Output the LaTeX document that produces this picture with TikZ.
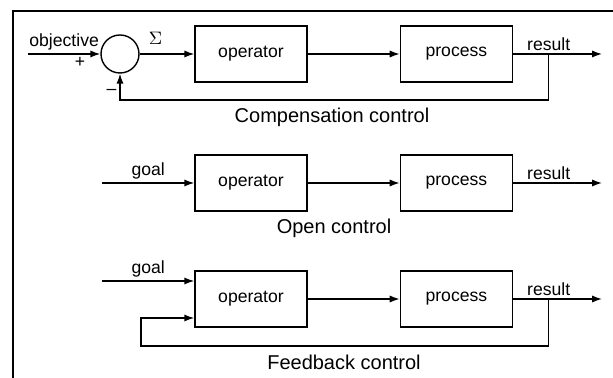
\documentclass[tikz,border=0pt]{standalone}
\usepackage{fontspec}
\setmainfont{Liberation Sans}
\usetikzlibrary{arrows.meta,positioning}

\tikzset{
  block/.style={rectangle, draw=black, line width=0.7pt, minimum width=56pt, minimum height=28pt, inner sep=0pt, font=\fontsize{8.8}{10}\selectfont},
  summer/.style={circle, draw=black, line width=0.7pt, minimum size=19pt, inner sep=0pt},
  lbl/.style={font=\fontsize{8.8}{10}\selectfont, inner sep=1.5pt},
  caption/.style={font=\fontsize{10}{12}\selectfont},
}

\begin{document}
\begin{tikzpicture}[x=1pt, y=1pt, line width=0.7pt, >={Latex[length=5pt,width=3.6pt]}]
  \useasboundingbox (0,0) rectangle (306.5,189);
  %frame
  \draw (6.5,0) -- (6.5,183.5) -- (306.5,183.5);

  %compensation control
  \node at (60,162) [summer] (sum) {};
  \node at (125.5,162) [block] (op1) {operator};
  \node[block, right=46pt of op1] (proc1) {process};
  \coordinate (in1) at (14,162);
  \coordinate (out1) at (301,162);
  \draw[->] (in1) -- (sum) node[lbl, midway, above] {objective}
    node[lbl, pos=.72, below] {+};
  \draw[->] (sum) -- (op1) node[lbl, pos=.29, above=3pt] {$\Sigma$};
  \draw[->] (op1) -- (proc1);
  \draw[->] (proc1) -- (out1) node[lbl, pos=.4, above] {result}
    coordinate[pos=.4] (tap1);
  \draw[->] (tap1) -- ++(0,-23) -| (sum.south) node[lbl, pos=.65, left] {--};
  \node at (166,130.5) [caption] (comp) {Compensation control};

  %open control
  \node at (125.5,97.5) [block] (op2) {operator};
  \node[block, right=46pt of op2] (proc2) {process};
  \coordinate (in2) at (51,97.5);
  \coordinate (out2) at (301,97.5);
  \draw[->] (in2) -- (op2) node[lbl, midway, above] {goal};
  \draw[->] (op2) -- (proc2);
  \draw[->] (proc2) -- (out2) node[lbl, pos=.4, above] {result};
  \node at (167,75) [caption] (open) {Open control};

  %feedback control
  \node at (125.5,39.5) [block] (op3) {operator};
  \node[block, right=46pt of op3] (proc3) {process};
  \coordinate (in3) at (51,48.5);
  \coordinate (out3) at (301,39.5);
  \coordinate (fb3) at (70.5,16);
  \draw[->] (in3) -- (in3 -| op3.west) node[lbl, midway, above] {goal};
  \draw[->] (op3) -- (proc3);
  \draw[->] (proc3) -- (out3) node[lbl, pos=.4, above] {result}
    coordinate[pos=.4] (tap3);
  \draw[->] (tap3) |- (fb3) |- ([yshift=-9.5pt]op3.west);
  \node at (172,8) [caption] (feed) {Feedback control};
\end{tikzpicture}
\end{document}
